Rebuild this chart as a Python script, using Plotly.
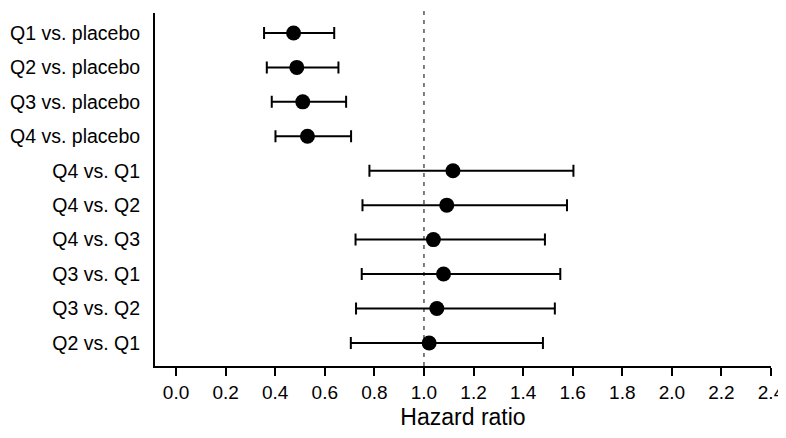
import plotly.graph_objects as go

# comparisons, top to bottom
labels = [
    "Q1 vs. placebo", "Q2 vs. placebo", "Q3 vs. placebo", "Q4 vs. placebo",
    "Q4 vs. Q1", "Q4 vs. Q2", "Q4 vs. Q3", "Q3 vs. Q1", "Q3 vs. Q2", "Q2 vs. Q1",
]
hr = [0.474, 0.487, 0.511, 0.530, 1.117, 1.092, 1.038, 1.079, 1.052, 1.021]
ci_low = [0.355, 0.366, 0.386, 0.401, 0.780, 0.752, 0.724, 0.749, 0.726, 0.705]
ci_high = [0.638, 0.655, 0.686, 0.706, 1.603, 1.577, 1.488, 1.550, 1.528, 1.480]
x_ticks = [0.0, 0.2, 0.4, 0.6, 0.8, 1.0, 1.2, 1.4, 1.6, 1.8, 2.0, 2.2, 2.4]

font_family = "Liberation Sans, Arial, sans-serif"

fig = go.Figure()

fig.add_trace(go.Scatter(
    x=hr,
    y=labels,
    mode="markers",
    marker=dict(size=15, color="black"),
    error_x=dict(
        type="data",
        symmetric=False,
        array=[h - m for h, m in zip(ci_high, hr)],
        arrayminus=[m - l for m, l in zip(hr, ci_low)],
        color="black",
        thickness=2,
        width=6,
    ),
    showlegend=False,
))

# reference line at HR = 1 (runs a little above the plot top, as in the original)
fig.add_shape(
    type="line", x0=1, x1=1, y0=0, y1=1.035, xref="x", yref="paper",
    line=dict(color="#555555", width=1.5, dash="4px,5px"),
    layer="below",
)

# page body has an 8px margin, so the figure starts at (8, 8) in the window
fig.update_layout(
    width=786,
    height=422,
    margin=dict(l=147, r=23, t=5, b=64),
    plot_bgcolor="white",
    paper_bgcolor="white",
    font=dict(family=font_family, size=19.5, color="black"),
)

fig.update_xaxes(
    range=[-0.085, 2.4],
    tickvals=x_ticks,
    ticktext=[f"{v:.1f}" for v in x_ticks],
    ticks="outside",
    ticklen=8,
    tickwidth=2,
    tickcolor="black",
    showline=True,
    linewidth=2,
    linecolor="black",
    showgrid=False,
    zeroline=False,
    automargin=False,
    ticklabeloverflow="allow",
    tickfont=dict(size=19),
    title=dict(text="Hazard ratio", font=dict(size=23), standoff=14),
)

fig.update_yaxes(
    type="category",
    categoryorder="array",
    categoryarray=labels,
    range=[9.67, -0.58],
    showline=True,
    linewidth=2,
    linecolor="black",
    showgrid=False,
    zeroline=False,
    automargin=False,
    ticks="",
    ticklabelstandoff=9,
    tickfont=dict(size=19.5),
)

fig.write_html("out.html")
